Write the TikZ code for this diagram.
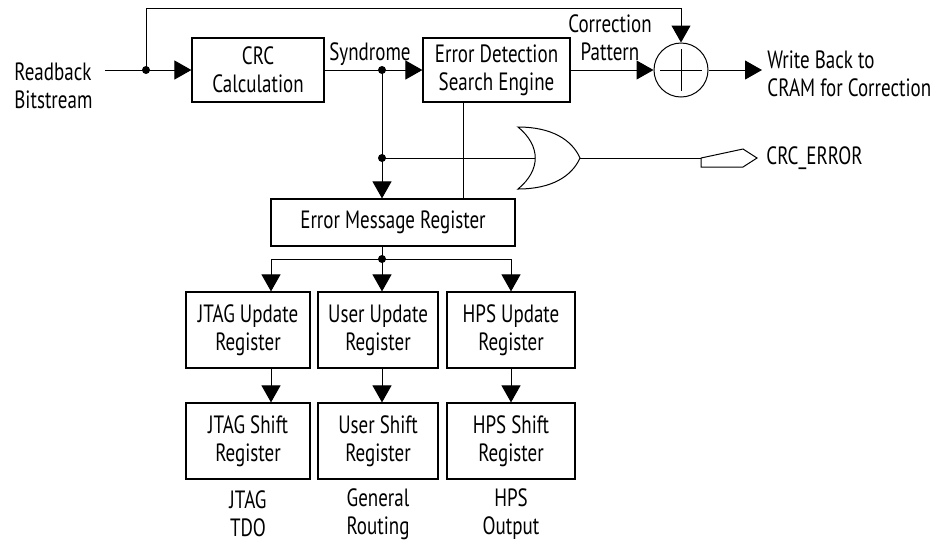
\documentclass[tikz,border=0pt]{standalone}
\usepackage{fontspec}
\setmainfont{PT Sans}[FakeStretch=0.76]
\usetikzlibrary{arrows.meta,positioning,calc}
\tikzset{
  blk/.style={draw, line width=0.6pt, align=center, inner sep=0pt, minimum height=32pt},
  lbl/.style={inner sep=0pt, align=left},
  wire/.style={line width=0.5pt},
  sig/.style={wire, -{Triangle[length=8.5pt,width=9.5pt]}},
  jn/.style={circle, fill, inner sep=0pt, minimum size=4pt},
}

\begin{document}
\begin{tikzpicture}[x=0.5pt, y=-0.5pt, font=\fontsize{12.5}{14}\selectfont]
\useasboundingbox (0,0) rectangle (941,543);
% top row
\node[lbl, anchor=west] (rb) at (14,86) {Readback\\Bitstream};
\coordinate (in) at (105,70);
\node[jn] (tap) at (146,70) {};
\node[blk, minimum width=66pt] (crc) at (258,70) {CRC\\Calculation};
\node[lbl] (syn) at (370,54) {Syndrome};
\node[jn] (syd) at (382,70) {};
\node[blk, minimum width=73.5pt] (eds) at (496.5,70) {Error Detection\\Search Engine};
\node[lbl, align=center] (cp) at (610,38) {Correction\\Pattern};
\node[draw, wire, circle, minimum size=27pt, inner sep=0pt] (xor) at (681,70) {};
\draw[wire] ($(xor.west)!0.12!(xor.east)$) -- ($(xor.west)!0.88!(xor.east)$);
\draw[wire] ($(xor.north)!0.12!(xor.south)$) -- ($(xor.north)!0.88!(xor.south)$);
\node[lbl, anchor=west] (wb) at (767,74) {Write Back to\\CRAM for Correction};
\coordinate (wbin) at (762,70);
\coordinate (top) at (0,8);
\draw[wire] (in) -- (tap.center);
\draw[sig] (tap.center) -- (crc.west);
\draw[sig] (tap.center) |- (xor.north |- top) -- (xor.north);
\draw[sig] (crc.east) -- (eds.west);
\draw[sig] (eds.east) -- (xor.west);
\draw[sig] (xor.east) -- (wbin);

% error flag
\node[jn] (ord) at (382,158) {};
\coordinate (orin) at (535,158);
\coordinate (orout) at (580,158);
\draw[wire] (518,127) .. controls (552,127) and (572,140) .. (orout)
  .. controls (572,176) and (552,189) .. (518,189)
  .. controls (541,170) and (541,146) .. cycle;
\coordinate (errport) at (701,158);
\draw[wire] (errport) -- ++(42,-9) -- ++(14,9) -- ++(-14,9) -- ++(-42,0) -- cycle;
\node[lbl, anchor=west] (crcerr) at (766,158) {CRC\_ERROR};
\draw[wire] (ord.center) -- (orin);
\draw[wire] (orout) -- (errport);

% message register
\node[blk, minimum width=122pt, minimum height=23.5pt] (emr) at (393,222.5) {Error Message Register};
\coordinate (edtap) at (463,102);
\draw[sig] (syd.center) -- (syd |- emr.north);
\draw[wire] (edtap) -- (edtap |- emr.north);
\node[jn] (split) at (382,259) {};
\draw[wire] (split |- emr.south) -- (split.center);

% output columns
\foreach \n/\cx/\w/\ax/\up/\sh/\out in {
    jtag/248/62/271/JTAG Update/JTAG Shift/JTAG\\TDO,
    user/378/60/382/User Update/User Shift/General\\Routing,
    hps/511/64/511/HPS Update/HPS Shift/HPS\\Output}{
  \node[blk, minimum width=\w pt, minimum height=38pt] (\n-up) at (\cx,330) {\up\\Register};
  \node[blk, minimum width=\w pt, minimum height=38pt] (\n-sh) at (\cx,441) {\sh\\Register};
  \node[lbl, align=center] (\n-out) at (\cx,514) {\out};
  \coordinate (\n-ax) at (\ax,259);
  \draw[sig] (\n-ax) -- (\n-ax |- \n-up.north);
  \draw[sig] (\n-ax |- \n-up.south) -- (\n-ax |- \n-sh.north);
}
\draw[wire] (jtag-ax) -- (hps-ax);
\end{tikzpicture}
\end{document}
